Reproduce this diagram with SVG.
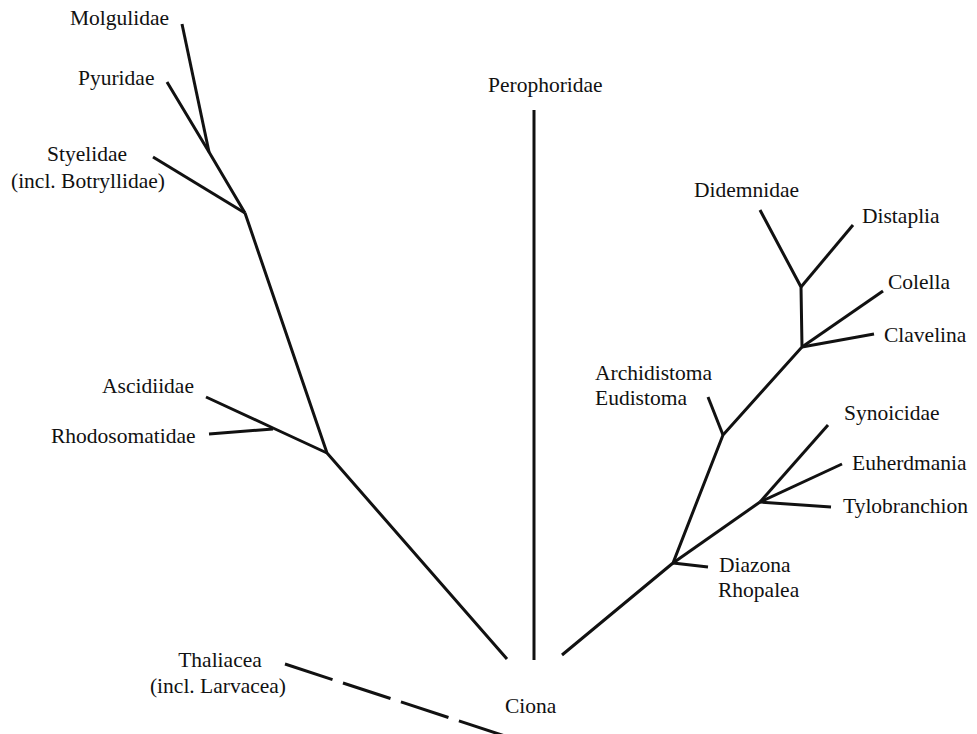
<svg xmlns="http://www.w3.org/2000/svg" width="977" height="734" viewBox="0 0 977 734">
<style>
text{font-family:"Liberation Serif","Times New Roman",serif;font-size:21.5px;fill:#111}
.b{fill:none;stroke:#111;stroke-width:3;stroke-linecap:butt;stroke-linejoin:miter}
.d{stroke-dasharray:50 11}
</style>
<rect width="977" height="734" fill="#fff"/>
<g id="connectors">
<line class="b" x1="182" y1="24" x2="209" y2="152"/>
<polyline class="b" points="167,82 209,152 245,213"/>
<line class="b" x1="153" y1="157" x2="245" y2="213"/>
<polyline class="b" points="245,213 327,453 507,659"/>
<polyline class="b" points="206,397 273,428 327,453"/>
<line class="b" x1="209" y1="434" x2="273" y2="429"/>
<line class="b" x1="534" y1="110" x2="534" y2="660"/>
<line class="b d" x1="285" y1="664" x2="505" y2="736"/>
<polyline class="b" points="562,655 673,563 723,435 802,347 801,287 760,210"/>
<line class="b" x1="801" y1="287" x2="853" y2="225"/>
<line class="b" x1="802" y1="347" x2="883" y2="291"/>
<line class="b" x1="802" y1="347" x2="874" y2="334"/>
<line class="b" x1="723" y1="435" x2="708" y2="397"/>
<line class="b" x1="673" y1="563" x2="760" y2="502"/>
<line class="b" x1="673" y1="563" x2="708" y2="567"/>
<line class="b" x1="760" y1="502" x2="828" y2="425"/>
<line class="b" x1="760" y1="502" x2="842" y2="464"/>
<line class="b" x1="760" y1="502" x2="831" y2="507"/>
</g>
<g id="molgulidae"><text x="70" y="25">Molgulidae</text></g>
<g id="pyuridae"><text x="78" y="85">Pyuridae</text></g>
<g id="styelidae"><text x="87" y="161" text-anchor="middle">Styelidae</text><text x="88" y="188" text-anchor="middle">(incl. Botryllidae)</text></g>
<g id="ascidiidae"><text x="102" y="393">Ascidiidae</text></g>
<g id="rhodosomatidae"><text x="51" y="443">Rhodosomatidae</text></g>
<g id="thaliacea"><text x="220" y="667" text-anchor="middle">Thaliacea</text><text x="218" y="693" text-anchor="middle">(incl. Larvacea)</text></g>
<g id="ciona"><text x="505" y="713">Ciona</text></g>
<g id="perophoridae"><text x="488" y="92">Perophoridae</text></g>
<g id="didemnidae"><text x="694" y="197">Didemnidae</text></g>
<g id="distaplia"><text x="862" y="223">Distaplia</text></g>
<g id="colella"><text x="888" y="289">Colella</text></g>
<g id="clavelina"><text x="884" y="342">Clavelina</text></g>
<g id="archidistoma"><text x="595" y="380">Archidistoma</text><text x="595" y="405">Eudistoma</text></g>
<g id="synoicidae"><text x="844" y="420">Synoicidae</text></g>
<g id="euherdmania"><text x="852" y="470">Euherdmania</text></g>
<g id="tylobranchion"><text x="843" y="513">Tylobranchion</text></g>
<g id="diazona"><text x="719" y="572">Diazona</text><text x="718" y="597">Rhopalea</text></g>
</svg>
